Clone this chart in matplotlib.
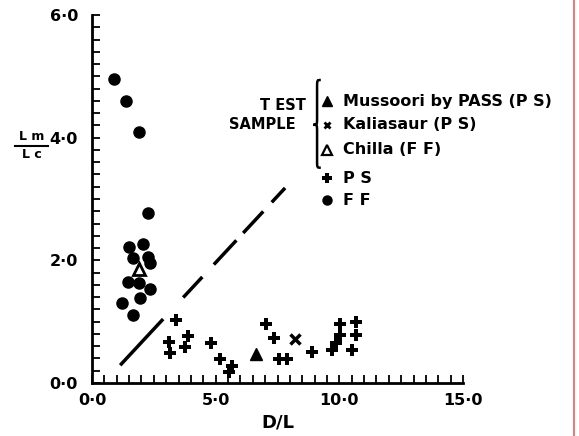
import matplotlib
matplotlib.use("Agg")
import matplotlib.pyplot as plt
from matplotlib.path import Path
from matplotlib.patches import PathPatch
from matplotlib.lines import Line2D

plt.rcParams['font.family'] = ['DejaVu Sans']
plt.rcParams['font.weight'] = 'bold'
plt.rcParams['lines.scale_dashes'] = False

# ---- data ----
ff_x = [0.90, 1.37, 1.92, 2.26, 1.51, 2.06, 1.65, 2.28, 2.35, 1.45, 1.92, 2.35, 1.23, 1.95, 1.65]
ff_y = [4.96, 4.60, 4.09, 2.77, 2.21, 2.26, 2.03, 2.06, 1.96, 1.65, 1.63, 1.54, 1.30, 1.38, 1.11]

ps_x = [3.41, 3.10, 3.14, 3.88, 3.75, 4.83, 5.17, 5.66, 5.53, 7.02, 7.36, 7.56, 7.90,
        8.88, 9.72, 9.88, 10.03, 10.03, 10.67, 10.67, 10.51]
ps_y = [1.02, 0.67, 0.49, 0.77, 0.59, 0.66, 0.39, 0.28, 0.18, 0.96, 0.73, 0.39, 0.39,
        0.51, 0.53, 0.66, 0.78, 0.97, 0.99, 0.79, 0.54]

mussoori_x = [6.65]
mussoori_y = [0.47]
kaliasaur_x = [8.19]
kaliasaur_y = [0.71]
chilla_x = [1.92]
chilla_y = [1.86]

boundary_x = [1.14, 7.83]
boundary_y = [0.29, 3.19]

x_ticks = [0, 5, 10, 15]
x_ticklabels = ['0·0', '5·0', '10·0', '15·0']
y_ticks = [0, 2, 4, 6]
y_ticklabels = ['0·0', '2·0', '4·0', '6·0']

legend_labels = ['Mussoori by PASS (P S)', 'Kaliasaur (P S)', 'Chilla (F F)', 'P S', 'F F']

# ---- figure ----
W, H = 579, 436
fig = plt.figure(figsize=(W / 100, H / 100), dpi=100)
ax = fig.add_axes([92 / W, (H - 383) / H, 371 / W, 368 / H])
ax.set_xlim(0, 15)
ax.set_ylim(0, 6)

for s in ['top', 'right']:
    ax.spines[s].set_visible(False)
for s in ['left', 'bottom']:
    ax.spines[s].set_linewidth(2.0)

ax.set_xticks(x_ticks)
ax.set_xticklabels(x_ticklabels)
ax.set_yticks(y_ticks)
ax.set_yticklabels(y_ticklabels)
ax.set_xticks([i * 0.5 for i in range(31)], minor=True)
ax.set_yticks([i * 0.2 for i in range(31)], minor=True)
ax.tick_params(which='both', direction='in', width=1.3, color='black')
ax.tick_params(which='major', length=6)
ax.tick_params(which='minor', length=6)
ax.tick_params(axis='x', which='major', pad=7, labelsize=11.5)
ax.tick_params(axis='y', which='major', pad=10, labelsize=11.5)
for lab in ax.get_xticklabels() + ax.get_yticklabels():
    lab.set_fontweight('bold')

# marks
ax.plot(ff_x, ff_y, 'o', color='black', markersize=8, clip_on=False)
ax.plot(ps_x, ps_y, 'P', color='black', markersize=8, markeredgewidth=0, clip_on=False)
ax.plot(mussoori_x, mussoori_y, '^', color='black', markersize=9, clip_on=False)
ax.plot(kaliasaur_x, kaliasaur_y, 'x', color='black', markersize=7, markeredgewidth=2.5, clip_on=False)
ax.plot(chilla_x, chilla_y, '^', markerfacecolor='white', markeredgecolor='black',
        markersize=8, markeredgewidth=2, clip_on=False)

line, = ax.plot(boundary_x, boundary_y, color='black', linewidth=2.5)
line.set_dashes([45.4, 21.2, 20.2, 12.2, 23.8, 7.2, 21.2, 9, 14.1, 72])
line.set_dash_capstyle('butt')

# legend (manual)
leg_x_marker = 9.50
leg_x_text = 10.15
leg_ys = [4.59, 4.21, 3.80, 3.34, 2.98]
leg_markers = [dict(marker='^', color='black', markersize=7),
               dict(marker='x', color='black', markersize=5, markeredgewidth=2),
               dict(marker='^', markerfacecolor='white', markeredgecolor='black', markersize=7, markeredgewidth=1.6),
               dict(marker='P', color='black', markersize=7, markeredgewidth=0),
               dict(marker='o', color='black', markersize=6.5)]
for yv, lab, mk in zip(leg_ys, legend_labels, leg_markers):
    ax.plot([leg_x_marker], [yv], linestyle='none', clip_on=False, **mk)
    ax.text(leg_x_text, yv, lab, fontsize=11.5, fontweight='bold', va='center', ha='left')

ax.text(8.64, 4.53, 'T EST', fontsize=10.5, fontweight='bold', ha='right', va='center')
ax.text(8.24, 4.21, 'SAMPLE', fontsize=10.5, fontweight='bold', ha='right', va='center')

# curly brace
xr, xm, xl = 9.25, 9.10, 8.95
yt, ymid, yb = 4.94, 4.21, 3.51
r = 0.12
verts = [(xr, yt), (xm, yt), (xm, yt), (xm, yt - r),
         (xm, ymid + r),
         (xm, ymid), (xm, ymid), (xl, ymid),
         (xm, ymid), (xm, ymid), (xm, ymid - r),
         (xm, yb + r),
         (xm, yb), (xm, yb), (xr, yb)]
codes = [Path.MOVETO, Path.CURVE4, Path.CURVE4, Path.CURVE4,
         Path.LINETO,
         Path.CURVE4, Path.CURVE4, Path.CURVE4,
         Path.CURVE4, Path.CURVE4, Path.CURVE4,
         Path.LINETO,
         Path.CURVE4, Path.CURVE4, Path.CURVE4]
ax.add_patch(PathPatch(Path(verts, codes), facecolor='none', edgecolor='black',
                       linewidth=1.8, clip_on=False))

# axis labels
fig.text(32 / W, 1 - 136 / H, 'L m', fontsize=9, fontweight='bold', ha='center', va='center')
fig.add_artist(Line2D([15 / W, 48 / W], [1 - 146 / H, 1 - 146 / H], color='black', linewidth=1.5))
fig.text(32 / W, 1 - 155 / H, 'L c', fontsize=9, fontweight='bold', ha='center', va='center')
fig.text(278 / W, 1 - 422 / H, 'D/L', fontsize=13, fontweight='bold', ha='center', va='center')

# red border line at right edge
fig.add_artist(Line2D([573.5 / W, 573.5 / W], [0, 1], color='#f06a6a', linewidth=1.3))

fig.savefig('out.png', dpi=100)
